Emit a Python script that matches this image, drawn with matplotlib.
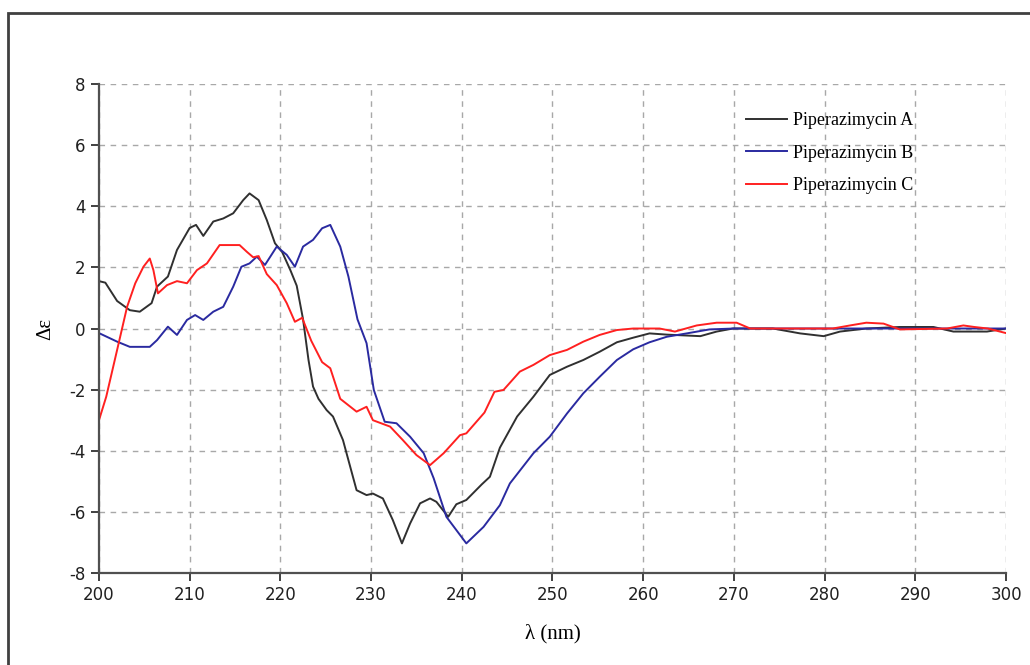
import matplotlib
matplotlib.use("Agg")
import matplotlib.pyplot as plt
from matplotlib.patches import Rectangle

# CD spectra of piperazimycins A-C
wl_a = [200, 200.7, 202, 203.4, 204.5, 205.8, 206.4, 207.6, 208.6, 210, 210.7, 211.5,
        212.6, 213.7, 214.8, 215.9, 216.6, 217.6, 218.5, 219.4, 220.2, 221.1, 221.8,
        222.5, 223.1, 223.6, 224.2, 225.1, 225.8, 226.9, 228.4, 229.5, 230.2, 231.3,
        232.4, 233.4, 234.3, 235.4, 236.5, 237.2, 238.5, 239.4, 240.5, 242.2, 243.1,
        244.2, 246.1, 247.9, 249.7, 251.6, 253.4, 255.2, 257.1, 258.9, 260.7, 262.6,
        266.3, 268.1, 269.9, 274.3, 277.3, 279.9, 281.7, 284.6, 288.3, 292, 294.2,
        297.9, 300]
de_a = [1.55, 1.5, 0.9, 0.6, 0.55, 0.83, 1.37, 1.7, 2.57, 3.29, 3.39, 3.03,
        3.5, 3.6, 3.77, 4.2, 4.42, 4.2, 3.55, 2.79, 2.5, 1.91, 1.4,
        0.3, -1.03, -1.9, -2.3, -2.67, -2.88, -3.65, -5.29, -5.45, -5.4, -5.56,
        -6.27, -7.03, -6.38, -5.72, -5.56, -5.67, -6.16, -5.75, -5.61, -5.1, -4.85,
        -3.9, -2.88, -2.23, -1.52, -1.25, -1.03, -0.76, -0.45, -0.3, -0.16, -0.2,
        -0.25, -0.1, 0.0, 0.0, -0.16, -0.25, -0.1, 0.0, 0.05, 0.05, -0.1,
        -0.1, 0.0]

wl_b = [200, 202, 203.4, 205.6, 206.4, 207.6, 208.6, 209.7, 210.6, 211.5, 212.6,
        213.7, 214.8, 215.7, 216.6, 217.4, 218.3, 219.6, 220.7, 221.6, 222.5, 223.6,
        224.6, 225.5, 226.6, 227.5, 228.5, 229.5, 230.3, 231.5, 232.8, 234.3, 235.8,
        236.9, 238.3, 240.5, 242.4, 244.2, 245.3, 247.9, 249.7, 251.6, 253.4, 255.2,
        257.1, 258.9, 260.7, 262.6, 264.8, 267.3, 270, 280, 290, 295, 300]
de_b = [-0.15, -0.43, -0.6, -0.6, -0.38, 0.06, -0.21, 0.28, 0.44, 0.28, 0.55,
        0.71, 1.37, 2.02, 2.13, 2.35, 2.08, 2.68, 2.41, 2.02, 2.68, 2.9,
        3.28, 3.39, 2.68, 1.7, 0.3, -0.48, -2.01, -3.05, -3.1, -3.54, -4.08,
        -4.9, -6.16, -7.03, -6.49, -5.78, -5.07, -4.08, -3.54, -2.78, -2.12, -1.58,
        -1.03, -0.68, -0.45, -0.27, -0.16, -0.03, 0.0, 0.0, 0.0, 0.0, 0.0]

wl_c = [200, 200.8, 202, 203.1, 204, 204.9, 205.6, 206, 206.5, 207.5, 208.6, 209.7,
        210.8, 211.9, 213.3, 215.5, 216.3, 217, 217.6, 218.5, 219.6, 220.7, 221.6,
        222.4, 223.4, 224.6, 225.5, 226.6, 228.4, 229.5, 230.2, 232.1, 233.5, 235,
        236.5, 238, 239.8, 240.5, 242.5, 243.6, 244.6, 246.4, 247.9, 249.7, 251.6,
        253.4, 255.2, 257.1, 258.9, 261.8, 263.5, 265.9, 268.1, 270.3, 271.8, 280.9,
        282.8, 284.6, 286.5, 288.3, 293.5, 295.3, 296.5, 298, 300]
de_c = [-3.0, -2.23, -0.7, 0.71, 1.48, 2.02, 2.29, 1.91, 1.15, 1.42, 1.55, 1.48,
        1.91, 2.13, 2.73, 2.73, 2.51, 2.33, 2.37, 1.78, 1.42, 0.83, 0.22,
        0.35, -0.4, -1.1, -1.3, -2.3, -2.72, -2.56, -3.0, -3.21, -3.65, -4.14,
        -4.47, -4.08, -3.49, -3.43, -2.75, -2.07, -2.01, -1.41, -1.19, -0.87, -0.7,
        -0.43, -0.21, -0.05, 0.0, 0.0, -0.1, 0.1, 0.19, 0.19, 0.0, 0.0,
        0.1, 0.19, 0.16, -0.03, 0.0, 0.1, 0.05, 0.0, -0.15]

series = [("Piperazimycin A", wl_a, de_a, "#303030"),
          ("Piperazimycin B", wl_b, de_b, "#2a2aa0"),
          ("Piperazimycin C", wl_c, de_c, "#ff2020")]

xticks = list(range(200, 301, 10))
yticks = list(range(-8, 9, 2))

plt.rcParams["axes.unicode_minus"] = False
fig = plt.figure(figsize=(10.3, 6.65), dpi=100)
ax = fig.add_axes([0.0961, 0.1383, 0.8806, 0.7354])

for name, x, y, col in series:
    ax.plot(x, y, color=col, lw=1.4, label=name)

ax.set_xlim(200, 300)
ax.set_ylim(-8, 8)
ax.set_xticks(xticks)
ax.set_yticks(yticks)
ax.tick_params(direction="out", length=6, width=1.2, labelsize=12, colors="#202020")
ax.grid(True, color="#a8a8a8", linestyle=(0, (4, 4)), lw=1)
for s in ["top", "right"]:
    ax.spines[s].set_visible(False)
for s in ["left", "bottom"]:
    ax.spines[s].set_color("#505050")
    ax.spines[s].set_linewidth(1.6)

ax.set_xlabel("λ (nm)", family="Liberation Serif", fontsize=15, labelpad=14)
ax.set_ylabel("Δε", family="Liberation Serif", fontsize=15, labelpad=10)

leg = ax.legend(loc="upper left", bbox_to_anchor=(0.695, 0.975), frameon=False,
                prop={"family": "Liberation Serif", "size": 13},
                handlelength=2.3, handletextpad=0.3, labelspacing=0.85)

# outer frame of the figure
fig.patches.append(Rectangle((8 / 1030, -0.1), 1.2, 1 - 13 / 665 + 0.1,
                             transform=fig.transFigure, fill=False,
                             ec="#404040", lw=2))

fig.savefig("out.png", dpi=100)
